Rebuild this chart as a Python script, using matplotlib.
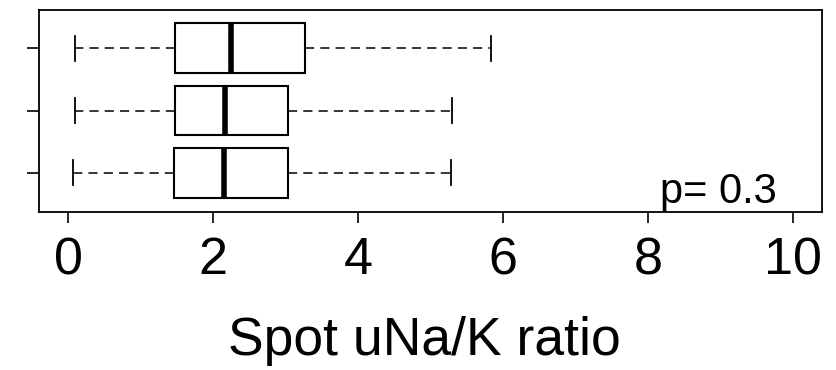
import matplotlib
matplotlib.use("Agg")
import matplotlib.pyplot as plt

plt.rcParams['font.family'] = ['Liberation Sans', 'DejaVu Sans']

# box stats per group, bottom to top
positions = [1, 2, 3]
whislo = [0.065, 0.10, 0.10]
q1 = [1.46, 1.47, 1.48]
med = [2.15, 2.16, 2.25]
q3 = [3.03, 3.03, 3.27]
whishi = [5.28, 5.30, 5.84]

xticks = [0, 2, 4, 6, 8, 10]
xlabel = "Spot uNa/K ratio"
ptext = "p= 0.3"

stats = []
for i in range(len(positions)):
    stats.append({"whislo": whislo[i], "q1": q1[i], "med": med[i],
                  "q3": q3[i], "whishi": whishi[i], "fliers": []})

fig = plt.figure(figsize=(8.36, 3.70), dpi=100)
ax = fig.add_axes([39 / 836, 1 - 211.5 / 370, 783 / 836, 202 / 370])

ax.bxp(stats, positions=positions, vert=False, widths=0.8,
       showfliers=False, patch_artist=True,
       boxprops=dict(facecolor="white", edgecolor="black", linewidth=1.5),
       medianprops=dict(color="black", linewidth=4.0, solid_capstyle="butt"),
       whiskerprops=dict(color="black", linewidth=1.1, linestyle=(0, (6, 4))),
       capprops=dict(color="black", linewidth=1.3),
       capwidths=0.4)

ax.set_xlim(-0.4, 10.4)
ax.set_ylim(0.38, 3.62)
ax.set_xticks(xticks)
ax.set_xticklabels([str(t) for t in xticks])
ax.set_yticks(positions)
ax.set_yticklabels([])
ax.tick_params(axis="x", length=8, width=1.2, labelsize=37.5, pad=10)
ax.tick_params(axis="y", length=8.6, width=1.2)
for s in ax.spines.values():
    s.set_linewidth(1.3)

fig.text(424.5 / 836, 1 - 355 / 370, xlabel, ha="center", va="baseline",
         fontsize=38.5)
ax.text(0.9425, 0.042, ptext, transform=ax.transAxes, ha="right",
        va="baseline", fontsize=30)

fig.savefig("out.png", dpi=100)
